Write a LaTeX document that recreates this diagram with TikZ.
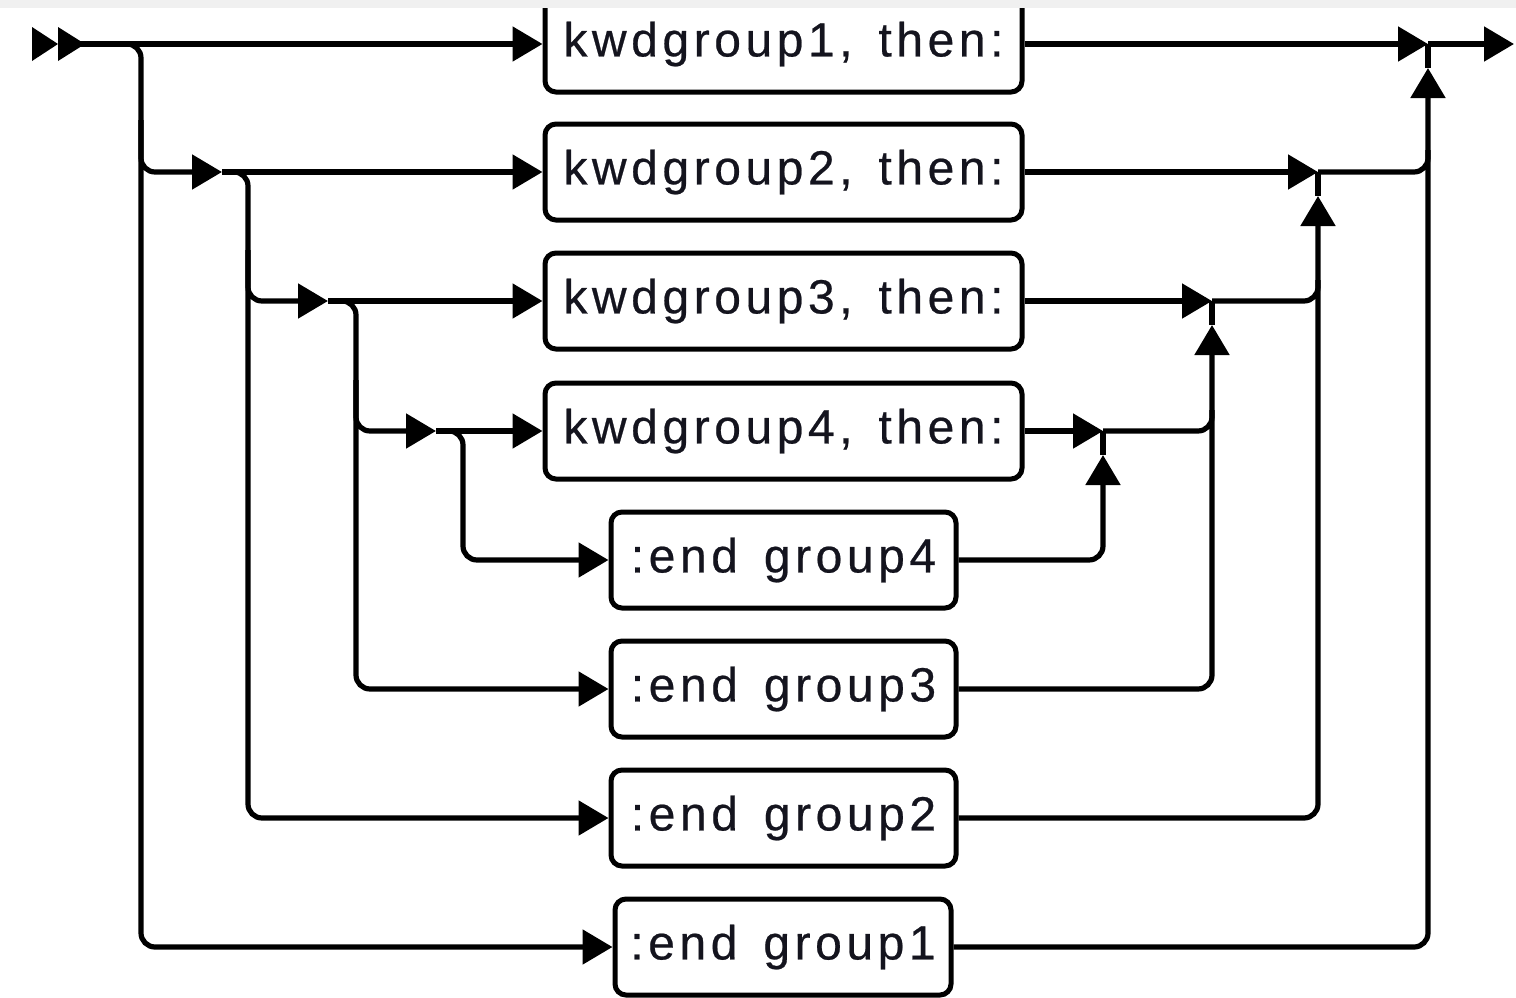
\documentclass[tikz,border=0pt]{standalone}
\usepackage{fontspec}
\setmainfont{Liberation Sans}[LetterSpace=9.5,WordSpace=1.45,FakeBold=0.5]
\usetikzlibrary{arrows.meta}
\definecolor{topbar}{RGB}{240,240,240}
\definecolor{txt}{RGB}{20,20,30}
\begin{document}
\begin{tikzpicture}[x=0.5pt,y=-0.5pt,
  conn/.style={line width=2.6pt, rounded corners=7pt},
  tip/.style={-{Triangle[length=15pt,width=17pt]}},
  kbox/.style={draw, line width=2.5pt, rounded corners=5.5pt, minimum width=238.5pt,
    minimum height=48pt, inner sep=0pt, font=\fontsize{24}{28}\selectfont,
    text=txt, fill=white},
  ebox/.style={kbox, minimum width=172.5pt}]
\useasboundingbox (0,0) rectangle (1516,997);
\clip (0,0) rectangle (1516,997);

% boxes
\node[kbox] (k1) at (783.5,44) {\raisebox{-1.5pt}{kwdgroup1, then:}};
\node[kbox] (k2) at (783.5,172) {\raisebox{-1.5pt}{kwdgroup2, then:}};
\node[kbox] (k3) at (783.5,301) {\raisebox{-1.5pt}{kwdgroup3, then:}};
\node[kbox] (k4) at (783.5,431) {\raisebox{-1.5pt}{kwdgroup4, then:}};
\node[ebox] (e4) at (783.5,560) {\raisebox{-1.5pt}{:end group4}};
\node[ebox] (e3) at (783.5,689) {\raisebox{-1.5pt}{:end group3}};
\node[ebox] (e2) at (783.5,818) {\raisebox{-1.5pt}{:end group2}};
\node[ebox, minimum width=168pt] (e1) at (783,947) {\raisebox{-1.5pt}{:end group1}};

% coordinates
\coordinate (s) at (72,44);
\coordinate (fin) at (1514,44);
\coordinate (a1) at (100,44);
\coordinate (c1) at (141,44);
\coordinate (d1) at (141,947);
\coordinate (c2) at (141,120);
\coordinate (c2b) at (141,172);
\coordinate (b2) at (222,172);
\coordinate (a2) at (230,172);
\coordinate (l2) at (248,172);
\coordinate (d2) at (248,818);
\coordinate (c3) at (248,250);
\coordinate (c3b) at (248,301);
\coordinate (b3) at (328,301);
\coordinate (a3) at (336,301);
\coordinate (l3) at (356,301);
\coordinate (d3) at (356,689);
\coordinate (c4) at (356,380);
\coordinate (c4b) at (356,431);
\coordinate (b4) at (436,431);
\coordinate (a4) at (442,431);
\coordinate (l4) at (463,431);
\coordinate (d4) at (463,560);

\coordinate (m1) at (1428,44);
\coordinate (m2) at (1318,172);
\coordinate (m3) at (1212,301);
\coordinate (m4) at (1103,431);
\coordinate (u1) at (1428,68);
\coordinate (u2) at (1318,196);
\coordinate (u3) at (1212,325);
\coordinate (u4) at (1103,455);
\coordinate (r1) at (1428,947);
\coordinate (r2) at (1318,818);
\coordinate (r3) at (1212,689);
\coordinate (r4) at (1103,560);
\coordinate (n2) at (1428,172);
\coordinate (n2t) at (1428,150);
\coordinate (n3) at (1318,301);
\coordinate (n3t) at (1318,280);
\coordinate (n4) at (1212,431);
\coordinate (n4t) at (1212,410);

% start marker
\fill (32,27) -- (58,44) -- (32,61) -- cycle;
\fill (58,27) -- (85,44) -- (58,61) -- cycle;

% row 1
\draw[conn,tip] (s) -- (k1.west);
\draw[conn,tip] (k1.east) -- (m1);
\draw[conn,tip] (m1) -- (fin);
\draw[conn,tip] (a1) -- (c1) -- (d1) -- (e1.west);

% row 2
\draw[conn,tip] (c2) -- (c2b) -- (b2);
\draw[conn,tip] (b2) -- (k2.west);
\draw[conn,tip] (a2) -- (l2) -- (d2) -- (e2.west);

% row 3
\draw[conn,tip] (c3) -- (c3b) -- (b3);
\draw[conn,tip] (b3) -- (k3.west);
\draw[conn,tip] (a3) -- (l3) -- (d3) -- (e3.west);

% row 4
\draw[conn,tip] (c4) -- (c4b) -- (b4);
\draw[conn,tip] (b4) -- (k4.west);
\draw[conn,tip] (a4) -- (l4) -- (d4) -- (e4.west);

% right side merges
\draw[conn,tip] (k4.east) -- (m4);
\draw[conn,tip] (e4.east) -- (r4) -- (u4);
\draw[conn] (u4) -- (m4);
\draw[conn] (m4) -- (n4) -- (n4t);

\draw[conn,tip] (k3.east) -- (m3);
\draw[conn,tip] (e3.east) -- (r3) -- (u3);
\draw[conn] (u3) -- (m3);
\draw[conn] (m3) -- (n3) -- (n3t);

\draw[conn,tip] (k2.east) -- (m2);
\draw[conn,tip] (e2.east) -- (r2) -- (u2);
\draw[conn] (u2) -- (m2);
\draw[conn] (m2) -- (n2) -- (n2t);

\draw[conn,tip] (e1.east) -- (r1) -- (u1);
\draw[conn] (u1) -- (m1);

% top strip
\fill[topbar] (0,0) rectangle (1516,8);
\end{tikzpicture}
\end{document}
